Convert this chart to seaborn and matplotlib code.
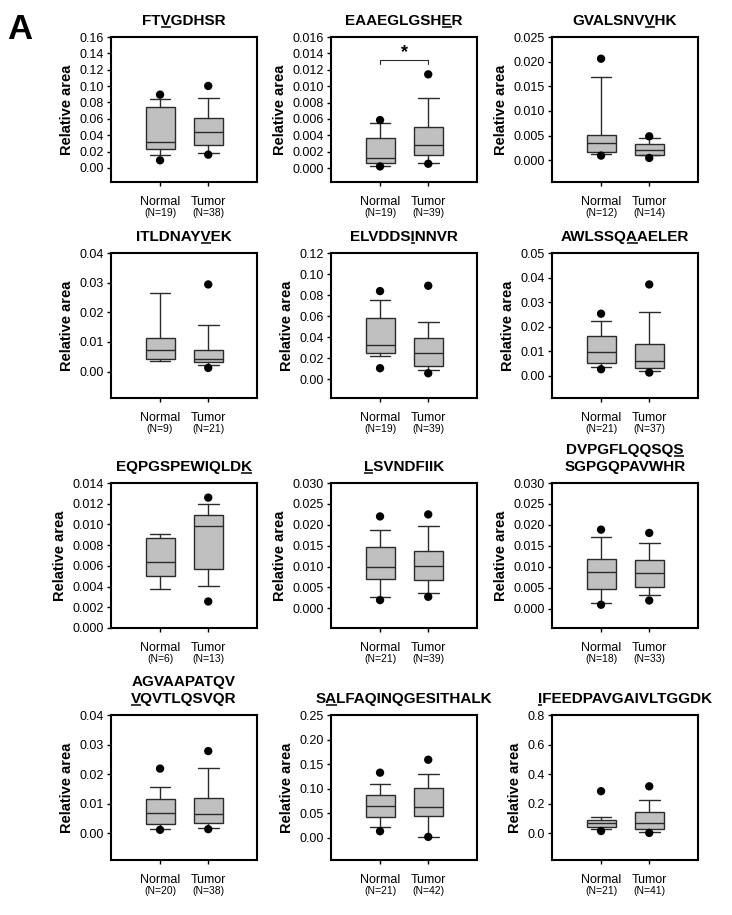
import numpy as np
import pandas as pd
import matplotlib
matplotlib.use("Agg")
import matplotlib.pyplot as plt
import matplotlib.transforms as mtransforms
from matplotlib.lines import Line2D
from matplotlib.font_manager import FontProperties
import seaborn as sns

# ---------------- data ----------------
titles = ["FTVGDHSR", "EAAEGLGSHER", "GVALSNVVHK",
          "ITLDNAYVEK", "ELVDDSINNVR", "AWLSSQAAELER",
          "EQPGSPEWIQLDK", "LSVNDFIIK", "DVPGFLQQSQS\nSGPGQPAVWHR",
          "AGVAAPATQV\nVQVTLQSVQR", "SALFAQINQGESITHALK", "IFEEDPAVGAIVLTGGDK"]
# (line, character index) of the underlined residue
underlined = [(0, 2), (0, 9), (0, 7), (0, 7), (0, 6), (0, 6),
              (0, 12), (0, 0), (0, 10), (1, 0), (0, 1), (0, 0)]

groups = ["Normal", "Tumor"]
n_normal = [19, 19, 12, 9, 19, 21, 6, 21, 18, 20, 21, 21]
n_tumor = [38, 39, 14, 21, 39, 37, 13, 39, 33, 38, 42, 41]

nan = np.nan
normal_lo_dot = [0.0094, 0.0002, 0.00095, nan, 0.0105, 0.0027, nan, 0.00198, 0.00095, 0.00112, 0.0135, 0.0157]
normal_lo_whisk = [0.0163, 0.0003, 0.00135, 0.0036, 0.0222, 0.0038, 0.00377, 0.00277, 0.00134, 0.00134, 0.0229, 0.027]
normal_q1 = [0.0236, 0.00065, 0.00169, 0.00428, 0.0251, 0.00543, 0.00502, 0.00712, 0.00466, 0.00314, 0.0431, 0.0404]
normal_med = [0.0318, 0.00118, 0.00345, 0.0072, 0.033, 0.00965, 0.00633, 0.00997, 0.00876, 0.00695, 0.0654, 0.0673]
normal_q3 = [0.0745, 0.00366, 0.00507, 0.0114, 0.0584, 0.0163, 0.00866, 0.01464, 0.01176, 0.01154, 0.0869, 0.0897]
normal_hi_whisk = [0.0839, 0.00546, 0.0169, 0.0265, 0.0752, 0.0224, 0.00911, 0.01884, 0.01721, 0.01546, 0.1092, 0.110]
normal_hi_dot = [0.0896, 0.00586, 0.0206, nan, 0.0838, 0.0253, nan, 0.0220, 0.01887, 0.02185, 0.1327, 0.285]

tumor_lo_dot = [0.0163, 0.00053, 0.00047, 0.00124, 0.0057, 0.00136, 0.00256, 0.00277, 0.00197, 0.00134, 0.002, 0.003]
tumor_lo_whisk = [0.0183, 0.00065, 0.0010, 0.00225, 0.0086, 0.0019, 0.00406, 0.00356, 0.00332, 0.00168, 0.002, 0.006]
tumor_q1 = [0.0277, 0.00163, 0.00101, 0.00327, 0.0127, 0.0031, 0.00566, 0.00673, 0.00513, 0.00347, 0.0451, 0.0314]
tumor_med = [0.044, 0.00277, 0.00203, 0.0043, 0.0248, 0.0061, 0.00988, 0.01021, 0.00845, 0.0065, 0.0627, 0.0717]
tumor_q3 = [0.0607, 0.0050, 0.00338, 0.0073, 0.0394, 0.0128, 0.01093, 0.01377, 0.01168, 0.01176, 0.1011, 0.1457]
tumor_hi_whisk = [0.0859, 0.00855, 0.00453, 0.0158, 0.0543, 0.0258, 0.01202, 0.01963, 0.01571, 0.02218, 0.130, 0.2287]
tumor_hi_dot = [0.1002, 0.01144, 0.00486, 0.0294, 0.0889, 0.0372, 0.01259, 0.02248, 0.01808, 0.02779, 0.159, 0.318]

y_max = [0.16, 0.016, 0.025, 0.04, 0.12, 0.05, 0.014, 0.030, 0.030, 0.04, 0.25, 0.8]
y_step = [0.02, 0.002, 0.005, 0.01, 0.02, 0.01, 0.002, 0.005, 0.005, 0.01, 0.05, 0.2]
y_bottom = [-0.0171, -0.0017, -0.0044, -0.0089, -0.0178, -0.009, 0.0, -0.0047, -0.0046, -0.0091, -0.045, -0.18]
decimals = [2, 3, 3, 2, 2, 2, 3, 3, 3, 2, 2, 1]

# significance bracket (panel 2)
sig_panel = 1
sig_y = 0.01315
sig_drop = 0.00042
sig_star_y = 0.0131
sig_label = "*"

# ---------------- style ----------------
sns.set_style("ticks")
plt.rcParams['font.family'] = ['Liberation Sans', 'DejaVu Sans']
plt.rcParams['text.color'] = 'black'
plt.rcParams['axes.labelcolor'] = 'black'
plt.rcParams['axes.linewidth'] = 1.5
plt.rcParams['xtick.major.size'] = 3
plt.rcParams['ytick.major.size'] = 3
plt.rcParams['xtick.major.width'] = 1.0
plt.rcParams['ytick.major.width'] = 1.0
plt.rcParams['xtick.color'] = 'black'
plt.rcParams['ytick.color'] = 'black'
plt.rcParams['axes.edgecolor'] = 'black'

DPI = 100
fig = plt.figure(figsize=(7.32, 9.15), dpi=DPI)
W, H = 732, 915

col_left_px = [111, 331, 552]
row_top_px = [37, 253, 483, 715]
ax_w_px, ax_h_px = 146, 145

box_face = '#c0c0c0'
line_col = '#2b2b2b'
title_fs = 11
title_font = FontProperties(family='Liberation Sans', weight='bold', size=title_fs)

title_lines_info = []
axes = []
for i in range(12):
    r, c = divmod(i, 3)
    left = col_left_px[c] / W
    bottom = 1 - (row_top_px[r] + ax_h_px) / H
    ax = fig.add_axes([left, bottom, ax_w_px / W, ax_h_px / H])
    axes.append(ax)

    stats = [
        dict(label=groups[0], med=normal_med[i], q1=normal_q1[i], q3=normal_q3[i],
             whislo=normal_lo_whisk[i], whishi=normal_hi_whisk[i], fliers=[]),
        dict(label=groups[1], med=tumor_med[i], q1=tumor_q1[i], q3=tumor_q3[i],
             whislo=tumor_lo_whisk[i], whishi=tumor_hi_whisk[i], fliers=[]),
    ]
    ax.bxp(stats, positions=[0, 1], widths=0.6, capwidths=0.43, patch_artist=True,
           showfliers=False, manage_ticks=False,
           boxprops=dict(facecolor=box_face, edgecolor=line_col, linewidth=1.0),
           medianprops=dict(color=line_col, linewidth=1.0),
           whiskerprops=dict(color=line_col, linewidth=1.0),
           capprops=dict(color=line_col, linewidth=1.0))

    dots = pd.DataFrame({
        'pos': [0, 0, 1, 1],
        'val': [normal_lo_dot[i], normal_hi_dot[i], tumor_lo_dot[i], tumor_hi_dot[i]],
    }).dropna()
    sns.scatterplot(data=dots, x='pos', y='val', ax=ax, color='black', s=36,
                    edgecolor='none', legend=False, zorder=4)

    if i == sig_panel:
        ax.plot([0, 0, 1, 1], [sig_y - sig_drop, sig_y, sig_y, sig_y - sig_drop],
                color=line_col, lw=0.8)
        ax.text(0.5, sig_star_y, sig_label, ha='center', va='bottom', fontsize=13,
                fontweight='bold')

    ax.set_xlim(-1.018, 2.012)
    ax.set_ylim(y_bottom[i], y_max[i])
    ticks = np.round(np.arange(0, y_max[i] + y_step[i] / 2, y_step[i]), 6)
    ax.set_yticks(ticks)
    ax.set_yticklabels([f"{t:.{decimals[i]}f}" for t in ticks], fontsize=9)
    ax.set_xticks([0, 1])
    ax.set_xticklabels(["", ""])
    ax.tick_params(axis='x', bottom=True, top=False, direction='out', pad=0)
    ax.tick_params(axis='y', left=True, right=False, direction='out', pad=2)
    for s in ax.spines.values():
        s.set_visible(True)
        s.set_linewidth(1.5)
        s.set_color('black')
    ax.set_xlabel("")
    ax.set_ylabel("Relative area", fontsize=10.5, fontweight='bold', labelpad=4)

    for k, (g, n) in enumerate(zip(groups, [n_normal[i], n_tumor[i]])):
        ax.annotate(g, xy=(k, 0), xycoords=('data', 'axes fraction'),
                    xytext=(0, -14.5), textcoords='offset points',
                    ha='center', va='center', fontsize=9)
        ax.annotate(f"(N={n})", xy=(k, 0), xycoords=('data', 'axes fraction'),
                    xytext=(0, -22.5), textcoords='offset points',
                    ha='center', va='center', fontsize=7.5)

    # title lines
    lines = titles[i].split("\n")
    nl = len(lines)
    for li, line in enumerate(lines):
        dy_pt = 8.5 + (nl - 1 - li) * 12.7
        tr = ax.transAxes + mtransforms.ScaledTranslation(0, dy_pt / 72, fig.dpi_scale_trans)
        t = ax.text(0.5, 1.0, line, transform=tr, ha='center', va='baseline',
                    fontproperties=title_font, color='black')
        if underlined[i][0] == li:
            title_lines_info.append((ax, t, line, underlined[i][1], dy_pt))

fig.text(7 / W, 1 - 39 / H, "A", fontsize=25, fontweight='bold', va='baseline',
         ha='left', color='black')

# underline the marked residues
fig.canvas.draw()
renderer = fig.canvas.get_renderer()
inv = fig.transFigure.inverted()
for ax, t, line, idx, dy_pt in title_lines_info:
    full_w = renderer.get_text_width_height_descent(line, title_font, ismath=False)[0]
    pre_w = renderer.get_text_width_height_descent(line[:idx], title_font, ismath=False)[0] if idx > 0 else 0.0
    ch_w = renderer.get_text_width_height_descent(line[:idx + 1], title_font, ismath=False)[0] - pre_w
    cx = ax.transAxes.transform((0.5, 1.0))
    x_left = cx[0] - full_w / 2
    base_y = cx[1] + dy_pt / 72 * DPI
    y_ul = base_y - 2.2
    p0 = inv.transform((x_left + pre_w, y_ul))
    p1 = inv.transform((x_left + pre_w + ch_w, y_ul))
    fig.add_artist(Line2D([p0[0], p1[0]], [p0[1], p1[1]], transform=fig.transFigure,
                          color='black', lw=1.1, solid_capstyle='butt'))

fig.savefig("out.png", dpi=DPI)
